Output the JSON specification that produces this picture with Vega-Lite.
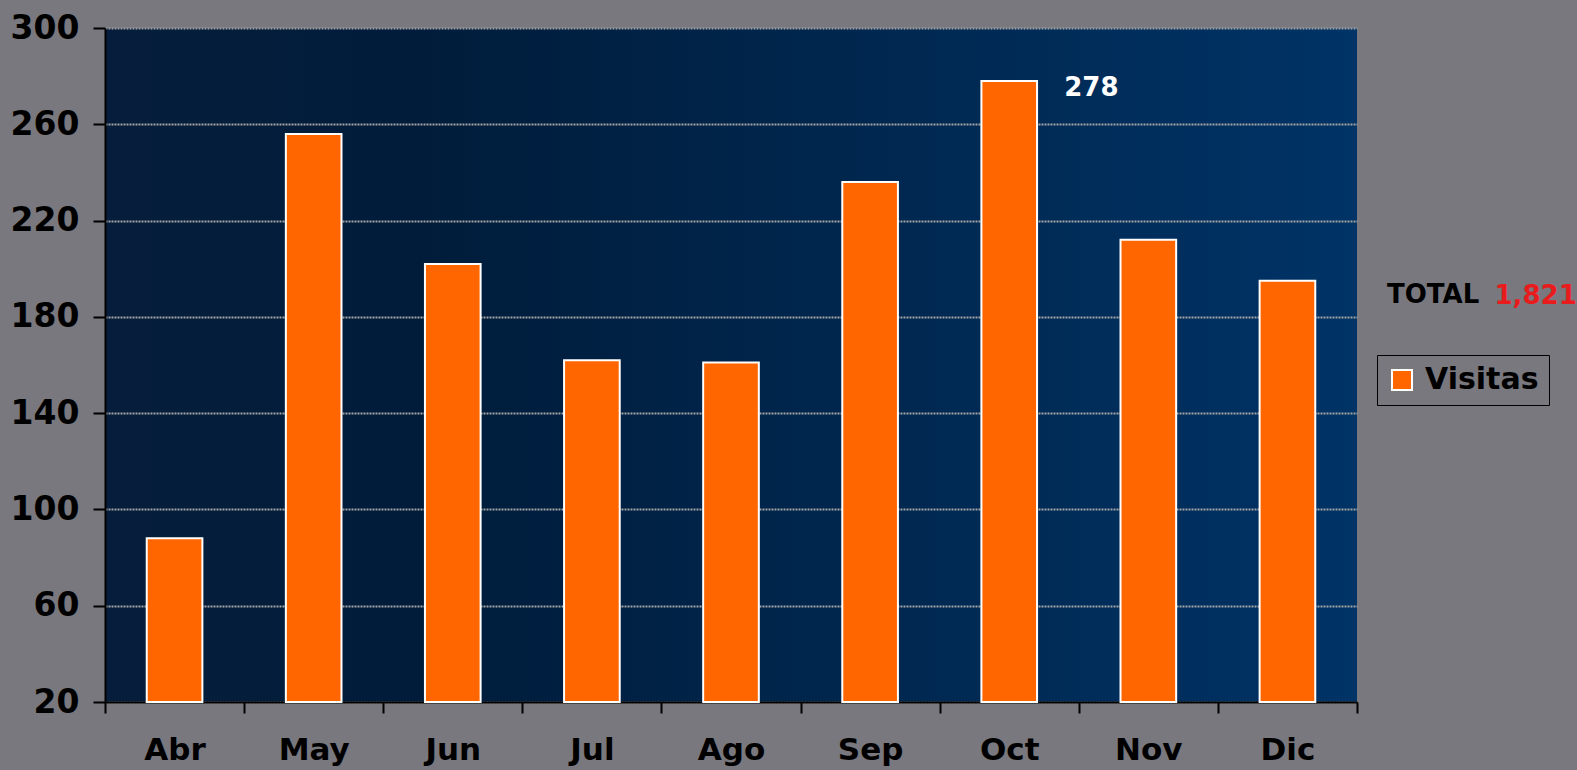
{
  "$schema": "https://vega.github.io/schema/vega-lite/v6.json",
  "autosize": {"type": "none"},
  "width": 1252,
  "height": 674,
  "padding": {"left": 105, "top": 28, "right": 220, "bottom": 68},
  "background": "#78787e",
  "title": {
    "text": "TOTAL", "orient": "top", "anchor": "start", "frame": "group", "align": "left", "baseline": "middle",
    "offset": 0, "dx": 1282, "dy": 309, "fontSize": 26, "fontWeight": "bold", "color": "#000000", "font": "DejaVu Sans"
  },
  "config": {
    "font": "DejaVu Sans",
    "view": {
      "stroke": null,
      "fill": {"gradient": "linear", "x1": 0, "y1": 0, "x2": 1, "y2": 0, "stops": [{"offset": 0, "color": "#061e3c"}, {"offset": 0.25, "color": "#001c3a"}, {"offset": 1, "color": "#003366"}]}
    }
  },
  "data": {
    "values": [
      {"mes": "Abr", "visitas": 88},
      {"mes": "May", "visitas": 256},
      {"mes": "Jun", "visitas": 202},
      {"mes": "Jul", "visitas": 162},
      {"mes": "Ago", "visitas": 161},
      {"mes": "Sep", "visitas": 236},
      {"mes": "Oct", "visitas": 278},
      {"mes": "Nov", "visitas": 212},
      {"mes": "Dic", "visitas": 195}
    ]
  },
  "encoding": {
    "x": {
      "field": "mes", "type": "nominal", "sort": null,
      "scale": {"paddingInner": 0, "paddingOuter": 0},
      "axis": {
        "title": "1,821", "titleColor": "#e81c1c", "titleFontSize": 26, "titleFontWeight": "bold",
        "titleX": 1389, "titleY": -407, "titleAlign": "left", "titleBaseline": "middle", "titleAngle": 0,
        "labelAngle": 0, "labelFontSize": 31, "labelFontWeight": "bold", "labelColor": "#000000", "labelPadding": 22,
        "domainColor": "#000000", "domainWidth": 2, "tickColor": "#000000", "tickWidth": 2, "tickSize": 11, "tickBand": "extent",
        "grid": false
      }
    }
  },
  "layer": [
    {
      "mark": {"type": "bar", "width": {"band": 0.4}, "stroke": "#ffffff", "strokeWidth": 2},
      "encoding": {
        "y": {
          "field": "visitas", "type": "quantitative",
          "scale": {"domain": [20, 300], "nice": false, "zero": false},
          "axis": {
            "values": [20, 60, 100, 140, 180, 220, 260, 300],
            "title": null,
            "labelFontSize": 33, "labelFontWeight": "bold", "labelColor": "#000000", "labelPadding": 14,
            "domainColor": "#000000", "domainWidth": 2, "tickColor": "#000000", "tickWidth": 2, "tickSize": 12,
            "grid": true, "gridColor": "#a4a4a4", "gridWidth": 2, "gridDash": [2, 1]
          }
        },
        "y2": {"datum": 20},
        "color": {
          "datum": "Visitas",
          "scale": {"range": ["#ff6600"]},
          "legend": {
            "orient": "none", "legendX": 1272, "legendY": 327, "title": null,
            "strokeColor": "#000000", "padding": 10,
            "symbolType": "square", "symbolSize": 400, "symbolStrokeColor": "#ffffff", "symbolStrokeWidth": 2, "symbolOpacity": 1,
            "labelFontSize": 30, "labelFontWeight": "bold", "labelColor": "#000000", "labelOffset": 8
          }
        }
      }
    },
    {
      "transform": [{"filter": "datum.mes == 'Oct'"}],
      "mark": {"type": "text", "align": "left", "baseline": "middle", "dx": 55, "dy": 7, "color": "#ffffff", "fontSize": 26, "fontWeight": "bold"},
      "encoding": {
        "y": {"field": "visitas", "type": "quantitative"},
        "text": {"field": "visitas", "type": "quantitative"}
      }
    }
  ]
}
